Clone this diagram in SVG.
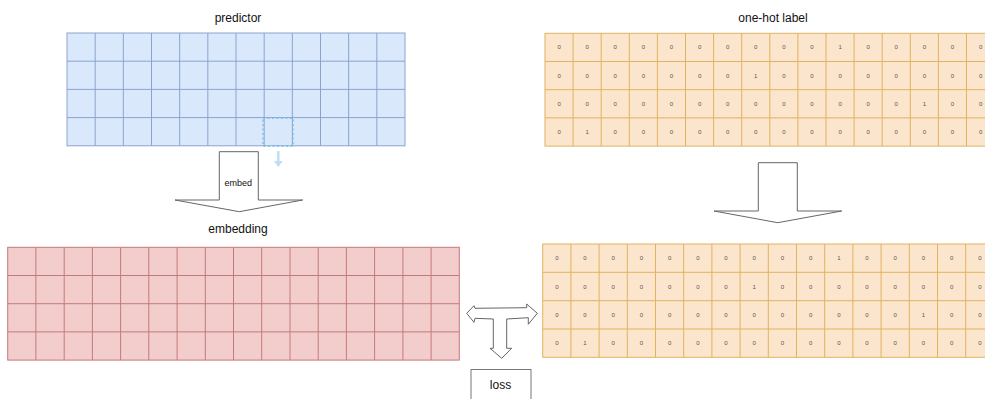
<svg xmlns="http://www.w3.org/2000/svg" width="985" height="399" viewBox="0 0 985 399">
<style>
.title{font-family:"Liberation Sans",Arial,sans-serif;font-size:12px;fill:#111;text-anchor:middle}
.small{font-family:"Liberation Sans",Arial,sans-serif;font-size:9px;fill:#111;text-anchor:middle}
.d{font-family:"Liberation Sans",Arial,sans-serif;font-size:6px;fill:#555;text-anchor:middle}
.blue{fill:#dae8fc;stroke:#8aa3cf;stroke-width:1}
.red{fill:#f3cdcc;stroke:#c47a78;stroke-width:1}
.org{fill:#fce5cd;stroke:#e2b25f;stroke-width:1}
.arrow{fill:#fff;stroke:#666;stroke-width:1;stroke-linejoin:miter}
</style>
<rect width="985" height="399" fill="#fff"/>

<g id="predictor">
<text class="title" x="238" y="22">predictor</text>
<rect class="blue" x="67" y="33" width="338" height="112.8"/>
<path class="blue" fill="none" d="M95.17 33V145.8M123.33 33V145.8M151.5 33V145.8M179.67 33V145.8M207.83 33V145.8M236 33V145.8M264.17 33V145.8M292.33 33V145.8M320.5 33V145.8M348.67 33V145.8M376.83 33V145.8M67 61.2H405M67 89.4H405M67 117.6H405"/>
<rect x="263" y="118" width="30" height="28" fill="none" stroke="#6cbfe6" stroke-width="1.3" stroke-dasharray="2 2.5"/>
</g>

<g id="embedding">
<text class="title" x="238" y="233">embedding</text>
<rect class="red" x="7.7" y="247.3" width="451.6" height="112.8"/>
<path class="red" fill="none" d="M35.9 247.3V360.1M64.2 247.3V360.1M92.4 247.3V360.1M120.6 247.3V360.1M148.8 247.3V360.1M177.1 247.3V360.1M205.3 247.3V360.1M233.5 247.3V360.1M261.7 247.3V360.1M290 247.3V360.1M318.2 247.3V360.1M346.4 247.3V360.1M374.6 247.3V360.1M402.9 247.3V360.1M431.1 247.3V360.1M7.7 275.5H459.3M7.7 303.7H459.3M7.7 331.9H459.3"/>
</g>

<g id="onehot">
<text class="title" x="773" y="22">one-hot label</text>
<rect class="org" x="545" y="33.3" width="449.6" height="112.8"/>
<path class="org" fill="none" d="M573.1 33.3V146.1M601.2 33.3V146.1M629.3 33.3V146.1M657.4 33.3V146.1M685.5 33.3V146.1M713.6 33.3V146.1M741.7 33.3V146.1M769.8 33.3V146.1M797.9 33.3V146.1M826 33.3V146.1M854.1 33.3V146.1M882.2 33.3V146.1M910.3 33.3V146.1M938.4 33.3V146.1M966.5 33.3V146.1M545 61.5H994.6M545 89.7H994.6M545 117.9H994.6"/>
<g class="d">
<text x="559.05" y="49.4">0</text><text x="587.15" y="49.4">0</text><text x="615.25" y="49.4">0</text><text x="643.35" y="49.4">0</text><text x="671.45" y="49.4">0</text><text x="699.55" y="49.4">0</text><text x="727.65" y="49.4">0</text><text x="755.75" y="49.4">0</text><text x="783.85" y="49.4">0</text><text x="811.95" y="49.4">0</text><text x="840.05" y="49.4">1</text><text x="868.15" y="49.4">0</text><text x="896.25" y="49.4">0</text><text x="924.35" y="49.4">0</text><text x="952.45" y="49.4">0</text><text x="980.55" y="49.4">0</text>
<text x="559.05" y="77.6">0</text><text x="587.15" y="77.6">0</text><text x="615.25" y="77.6">0</text><text x="643.35" y="77.6">0</text><text x="671.45" y="77.6">0</text><text x="699.55" y="77.6">0</text><text x="727.65" y="77.6">0</text><text x="755.75" y="77.6">1</text><text x="783.85" y="77.6">0</text><text x="811.95" y="77.6">0</text><text x="840.05" y="77.6">0</text><text x="868.15" y="77.6">0</text><text x="896.25" y="77.6">0</text><text x="924.35" y="77.6">0</text><text x="952.45" y="77.6">0</text><text x="980.55" y="77.6">0</text>
<text x="559.05" y="105.8">0</text><text x="587.15" y="105.8">0</text><text x="615.25" y="105.8">0</text><text x="643.35" y="105.8">0</text><text x="671.45" y="105.8">0</text><text x="699.55" y="105.8">0</text><text x="727.65" y="105.8">0</text><text x="755.75" y="105.8">0</text><text x="783.85" y="105.8">0</text><text x="811.95" y="105.8">0</text><text x="840.05" y="105.8">0</text><text x="868.15" y="105.8">0</text><text x="896.25" y="105.8">0</text><text x="924.35" y="105.8">1</text><text x="952.45" y="105.8">0</text><text x="980.55" y="105.8">0</text>
<text x="559.05" y="134">0</text><text x="587.15" y="134">1</text><text x="615.25" y="134">0</text><text x="643.35" y="134">0</text><text x="671.45" y="134">0</text><text x="699.55" y="134">0</text><text x="727.65" y="134">0</text><text x="755.75" y="134">0</text><text x="783.85" y="134">0</text><text x="811.95" y="134">0</text><text x="840.05" y="134">0</text><text x="868.15" y="134">0</text><text x="896.25" y="134">0</text><text x="924.35" y="134">0</text><text x="952.45" y="134">0</text><text x="980.55" y="134">0</text>
</g>
</g>

<g id="onehot2">
<rect class="org" x="542.7" y="244" width="451.2" height="113.3"/>
<path class="org" fill="none" d="M570.9 244V357.3M599.1 244V357.3M627.3 244V357.3M655.5 244V357.3M683.7 244V357.3M711.9 244V357.3M740.1 244V357.3M768.3 244V357.3M796.5 244V357.3M824.7 244V357.3M852.9 244V357.3M881.1 244V357.3M909.3 244V357.3M937.5 244V357.3M965.7 244V357.3M542.7 272.3H993.9M542.7 300.7H993.9M542.7 329H993.9"/>
<g class="d">
<text x="556.8" y="260.2">0</text><text x="585" y="260.2">0</text><text x="613.2" y="260.2">0</text><text x="641.4" y="260.2">0</text><text x="669.6" y="260.2">0</text><text x="697.8" y="260.2">0</text><text x="726" y="260.2">0</text><text x="754.2" y="260.2">0</text><text x="782.4" y="260.2">0</text><text x="810.6" y="260.2">0</text><text x="838.8" y="260.2">1</text><text x="867" y="260.2">0</text><text x="895.2" y="260.2">0</text><text x="923.4" y="260.2">0</text><text x="951.6" y="260.2">0</text><text x="979.8" y="260.2">0</text>
<text x="556.8" y="288.5">0</text><text x="585" y="288.5">0</text><text x="613.2" y="288.5">0</text><text x="641.4" y="288.5">0</text><text x="669.6" y="288.5">0</text><text x="697.8" y="288.5">0</text><text x="726" y="288.5">0</text><text x="754.2" y="288.5">1</text><text x="782.4" y="288.5">0</text><text x="810.6" y="288.5">0</text><text x="838.8" y="288.5">0</text><text x="867" y="288.5">0</text><text x="895.2" y="288.5">0</text><text x="923.4" y="288.5">0</text><text x="951.6" y="288.5">0</text><text x="979.8" y="288.5">0</text>
<text x="556.8" y="316.8">0</text><text x="585" y="316.8">0</text><text x="613.2" y="316.8">0</text><text x="641.4" y="316.8">0</text><text x="669.6" y="316.8">0</text><text x="697.8" y="316.8">0</text><text x="726" y="316.8">0</text><text x="754.2" y="316.8">0</text><text x="782.4" y="316.8">0</text><text x="810.6" y="316.8">0</text><text x="838.8" y="316.8">0</text><text x="867" y="316.8">0</text><text x="895.2" y="316.8">0</text><text x="923.4" y="316.8">1</text><text x="951.6" y="316.8">0</text><text x="979.8" y="316.8">0</text>
<text x="556.8" y="345.2">0</text><text x="585" y="345.2">1</text><text x="613.2" y="345.2">0</text><text x="641.4" y="345.2">0</text><text x="669.6" y="345.2">0</text><text x="697.8" y="345.2">0</text><text x="726" y="345.2">0</text><text x="754.2" y="345.2">0</text><text x="782.4" y="345.2">0</text><text x="810.6" y="345.2">0</text><text x="838.8" y="345.2">0</text><text x="867" y="345.2">0</text><text x="895.2" y="345.2">0</text><text x="923.4" y="345.2">0</text><text x="951.6" y="345.2">0</text><text x="979.8" y="345.2">0</text>
</g>
</g>

<g id="loss">
<rect x="471" y="369.5" width="60" height="40" fill="#fff" stroke="#777" stroke-width="1"/>
<text class="title" x="500.5" y="389">loss</text>
</g>

<g id="connectors">
<path d="M278.3 151V162" stroke="#bfe0f2" stroke-width="2.5" fill="none"/>
<path d="M273.8 161L278.3 167L282.8 161Z" fill="#bfe0f2"/>
<g id="embed-arrow">
<polygon class="arrow" points="219.3,151.7 258.3,151.7 258.3,200 302.7,200 239.3,211.7 175,200 219.3,200"/>
<text class="small" x="238.3" y="185.7">embed</text>
</g>
<polygon id="label-arrow" class="arrow" points="758.3,162.7 797.3,162.7 797.3,211 841.7,211 777.7,222.7 714,211 758.3,211"/>
<polygon id="loss-arrow" class="arrow" points="466.7,313.3 474,305.7 475,308.3 526.7,307.7 526.7,304 537.3,313.3 528.3,324.3 528.3,317.7 506.7,319 506.7,348.3 511.7,348.3 501.7,358.3 490,348.3 493.3,348.3 493.3,319 475,318.3 474,322.3"/>
</g>
</svg>
